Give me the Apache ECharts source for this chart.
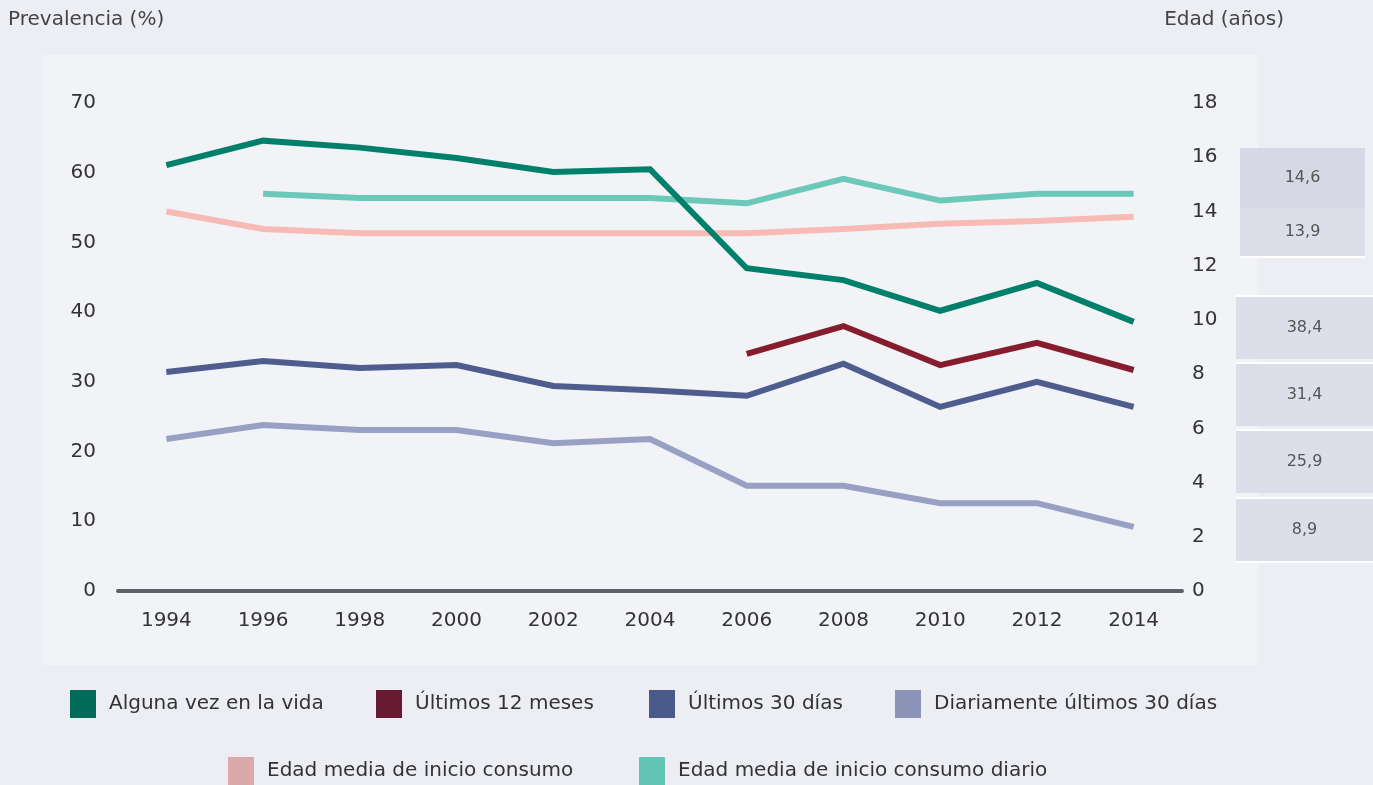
<!DOCTYPE html>
<html>
<head>
<meta charset="utf-8">
<script src="https://cdn.jsdelivr.net/npm/echarts@6/dist/echarts.min.js"></script>
<style>
  html, body { margin: 0; padding: 0; background: #eceef4; }
  #chart { width: 1373px; height: 785px; }
</style>
</head>
<body>
<div id="chart"></div>
<script>
// años
const years = ['1994', '1996', '1998', '2000', '2002', '2004', '2006', '2008', '2010', '2012', '2014']
// prevalencias (%)
const algunaVez = [61.1, 64.6, 63.6, 62.1, 60.1, 60.5, 46.3, 44.6, 40.2, 44.2, 38.6]
const ultimos12 = [null, null, null, null, null, null, 34.0, 38.0, 32.4, 35.6, 31.7]
const ultimos30 = [31.4, 33.0, 32.0, 32.4, 29.4, 28.8, 28.0, 32.6, 26.4, 30.0, 26.4]
const diario30 = [21.8, 23.8, 23.1, 23.1, 21.2, 21.8, 15.1, 15.1, 12.6, 12.6, 9.2]
// edades (años)
const edadInicio = [14.0, 13.35, 13.2, 13.2, 13.2, 13.2, 13.2, 13.35, 13.55, 13.65, 13.8]
const edadDiario = [null, 14.65, 14.5, 14.5, 14.5, 14.5, 14.3, 15.2, 14.4, 14.65, 14.65]
// valores de 2014 en las cajas de la derecha
const edadLabels = ['14,6', '13,9']
const prevLabels = ['38,4', '31,4', '25,9', '8,9']

const names = ['Alguna vez en la vida', 'Últimos 12 meses', 'Últimos 30 días',
  'Diariamente últimos 30 días', 'Edad media de inicio consumo', 'Edad media de inicio consumo diario']
const lineColors = ['#00806a', '#861d2e', '#4e5d8e', '#98a0c4', '#f8bab5', '#6cc8b8']
const iconColors = ['#006b56', '#681a33', '#4a5a8a', '#8b93b8', '#dca9ab', '#62c4b4']

const font = 'DejaVu Sans, Verdana, sans-serif'

let chart = echarts.init(document.getElementById('chart'))

let mkSeries = (i, data, axis) => ({
  name: names[i],
  type: 'line',
  yAxisIndex: axis,
  data: data,
  symbol: 'none',
  color: iconColors[i],
  lineStyle: { color: lineColors[i], width: 6, join: 'miter' },
  z: axis === 1 ? 2 : 3
})

// leyendas: una por elemento, para colocarlas como en el original
let legendPos = [
  [70, 690], [376, 690], [649, 690], [895, 690],
  [228, 757], [639, 757]
]
let legends = names.map((n, i) => ({
  data: [n],
  left: legendPos[i][0],
  top: legendPos[i][1],
  padding: 0,
  icon: 'rect',
  itemWidth: 26,
  itemHeight: 28,
  selectedMode: false,
  textStyle: { fontFamily: font, fontSize: 20, color: '#333', padding: [0, 0, 0, 8] }
}))

// cajas de la derecha
let boxes = []
let addBox = (x, y, w, h, fill, txt) => {
  boxes.push({ type: 'rect', shape: { x: x, y: y, width: w, height: h }, style: { fill: fill } })
  boxes.push({
    type: 'text', x: x + w / 2, y: y + h / 2,
    style: { text: txt, font: '16px ' + font, fill: '#555', align: 'center', verticalAlign: 'middle' }
  })
}
addBox(1240, 148, 125, 60, '#d6d8e5', edadLabels[0])
addBox(1240, 208, 125, 48, '#dcdfea', edadLabels[1])
boxes.push({ type: 'rect', shape: { x: 1240, y: 256, width: 125, height: 2 }, style: { fill: '#fff' } })
let ys = [297, 364, 431, 499]
prevLabels.forEach((t, i) => {
  boxes.push({ type: 'rect', shape: { x: 1236, y: ys[i] - 2, width: 137, height: 2 }, style: { fill: '#fff' } })
  addBox(1236, ys[i], 137, 62, '#dcdfea', t)
})
boxes.push({ type: 'rect', shape: { x: 1236, y: 561, width: 137, height: 2 }, style: { fill: '#fff' } })

let option = {
  backgroundColor: '#eceef4',
  animation: false,
  graphic: [
    { type: 'rect', shape: { x: 42, y: 55, width: 1216, height: 610 }, style: { fill: '#f1f3f7' }, z: -10 },
    { type: 'text', x: 8, y: 10, style: { text: 'Prevalencia (%)', font: '20px ' + font, fill: '#444' } },
    { type: 'text', x: 1284, y: 10, style: { text: 'Edad (años)', font: '20px ' + font, fill: '#444', align: 'right' } }
  ].concat(boxes),
  legend: legends,
  grid: { left: 118, right: 191, top: 103, bottom: 194 },
  xAxis: {
    type: 'category',
    data: years,
    boundaryGap: true,
    axisLine: { lineStyle: { color: '#5d6168', width: 4 } },
    axisTick: { show: false },
    axisLabel: { fontFamily: font, fontSize: 20, color: '#333', margin: 20 }
  },
  yAxis: [{
    type: 'value', min: 0, max: 70, interval: 10,
    axisLine: { show: false }, axisTick: { show: false }, splitLine: { show: false },
    axisLabel: { fontFamily: font, fontSize: 20, color: '#333', margin: 22 }
  }, {
    type: 'value', min: 0, max: 18, interval: 2,
    axisLine: { show: false }, axisTick: { show: false }, splitLine: { show: false },
    axisLabel: { fontFamily: font, fontSize: 20, color: '#333', margin: 10 }
  }],
  series: [
    mkSeries(0, algunaVez, 0),
    mkSeries(1, ultimos12, 0),
    mkSeries(2, ultimos30, 0),
    mkSeries(3, diario30, 0),
    mkSeries(4, edadInicio, 1),
    mkSeries(5, edadDiario, 1)
  ]
}
chart.setOption(option)
</script>
</body>
</html>
